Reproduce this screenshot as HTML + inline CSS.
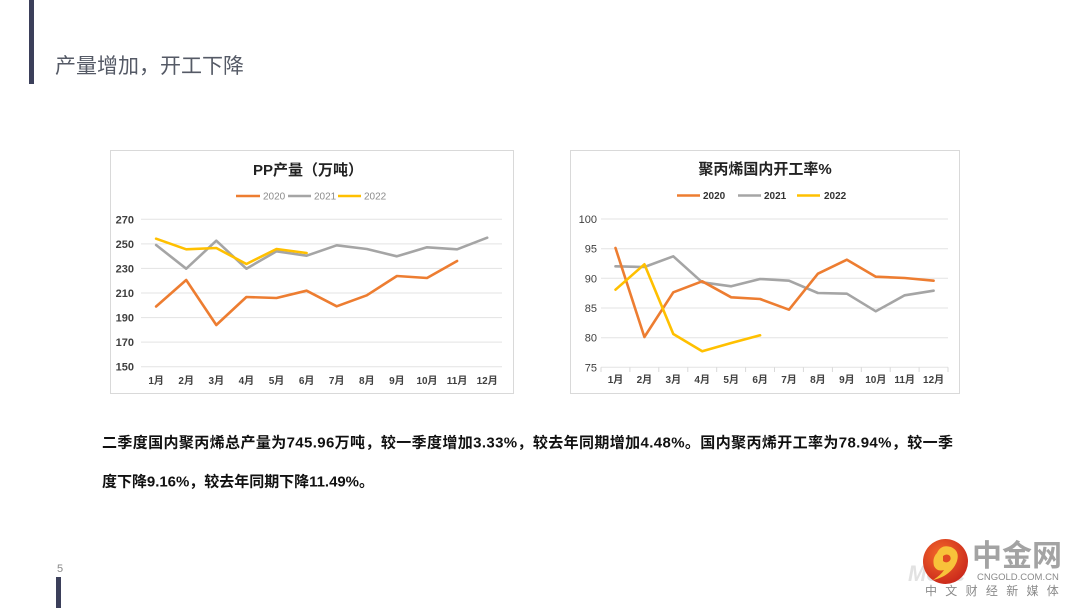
<!DOCTYPE html>
<html>
<head>
<meta charset="utf-8">
<style>
html,body{margin:0;padding:0;background:#fff;}
body{width:1080px;height:608px;position:relative;overflow:hidden;font-family:"Liberation Sans","Noto Sans CJK SC",sans-serif;}
svg{position:absolute;left:0;top:0;}
</style>
</head>
<body>
<svg width="1080" height="608" viewBox="0 0 1080 608" xmlns="http://www.w3.org/2000/svg">
  <!-- decorative bars -->
  <rect x="29" y="0" width="5" height="84" fill="#3b3f5a"/>
  <rect x="56" y="577" width="5" height="31" fill="#3b3f5a"/>
  <text x="55" y="73" font-family="Liberation Sans, Noto Sans CJK SC, sans-serif" font-size="21" fill="#555a66">产量增加，开工下降</text>
  <text x="57" y="572" font-family="Liberation Sans, sans-serif" font-size="11" fill="#888">5</text>

  <!-- ===== Chart 1 ===== -->
  <rect x="110.5" y="150.5" width="403" height="243" fill="#fff" stroke="#d9d9d9" stroke-width="1"/>
  <text x="308" y="175" text-anchor="middle" font-family="Liberation Sans, Noto Sans CJK SC, sans-serif" font-size="15" font-weight="bold" fill="#222">PP产量（万吨）</text>
  <g font-family="Liberation Sans, sans-serif" font-size="10" fill="#8c8c8c">
    <line x1="236" y1="196" x2="260" y2="196" stroke="#ED7D31" stroke-width="2.5"/>
    <text x="263" y="199.5">2020</text>
    <line x1="288" y1="196" x2="311" y2="196" stroke="#A5A5A5" stroke-width="2.5"/>
    <text x="314" y="199.5">2021</text>
    <line x1="338" y1="196" x2="361" y2="196" stroke="#FFC000" stroke-width="2.5"/>
    <text x="364" y="199.5">2022</text>
  </g>
  <g stroke="#e3e3e3" stroke-width="1">
    <line x1="141" y1="219.3" x2="502" y2="219.3"/>
    <line x1="141" y1="243.9" x2="502" y2="243.9"/>
    <line x1="141" y1="268.4" x2="502" y2="268.4"/>
    <line x1="141" y1="293.0" x2="502" y2="293.0"/>
    <line x1="141" y1="317.6" x2="502" y2="317.6"/>
    <line x1="141" y1="342.1" x2="502" y2="342.1"/>
    <line x1="141" y1="366.7" x2="502" y2="366.7"/>
  </g>
  <g font-family="Liberation Sans, sans-serif" font-size="11" font-weight="bold" fill="#404040" text-anchor="end">
    <text x="134" y="223.3">270</text>
    <text x="134" y="247.9">250</text>
    <text x="134" y="272.4">230</text>
    <text x="134" y="297.0">210</text>
    <text x="134" y="321.6">190</text>
    <text x="134" y="346.1">170</text>
    <text x="134" y="370.7">150</text>
  </g>
  <g font-family="Liberation Sans, Noto Sans CJK SC, sans-serif" font-size="10" font-weight="bold" fill="#404040" text-anchor="middle">
    <text x="156.1" y="384">1月</text>
    <text x="186.2" y="384">2月</text>
    <text x="216.3" y="384">3月</text>
    <text x="246.4" y="384">4月</text>
    <text x="276.5" y="384">5月</text>
    <text x="306.6" y="384">6月</text>
    <text x="336.7" y="384">7月</text>
    <text x="366.8" y="384">8月</text>
    <text x="396.9" y="384">9月</text>
    <text x="427.0" y="384">10月</text>
    <text x="457.1" y="384">11月</text>
    <text x="487.2" y="384">12月</text>
  </g>
  <g fill="none" stroke-width="2.6" stroke-linejoin="round" stroke-linecap="round">
    <polyline stroke="#ED7D31" points="156.1,306.5 186.2,280 216.3,325 246.4,297 276.5,298 306.6,290.7 336.7,306.3 366.8,295.3 396.9,276 427,278 457.1,261"/>
    <polyline stroke="#A5A5A5" points="156.1,245 186.2,268.7 216.3,240.7 246.4,268.7 276.5,251.3 306.6,255.7 336.7,245.3 366.8,249 396.9,256.3 427,247.3 457.1,249.3 487.2,237.7"/>
    <polyline stroke="#FFC000" points="156.1,238.7 186.2,249.3 216.3,248 246.4,264 276.5,249 306.6,253"/>
  </g>

  <!-- ===== Chart 2 ===== -->
  <rect x="570.5" y="150.5" width="389" height="243" fill="#fff" stroke="#d9d9d9" stroke-width="1"/>
  <text x="765" y="174" text-anchor="middle" font-family="Liberation Sans, Noto Sans CJK SC, sans-serif" font-size="15" font-weight="bold" fill="#222">聚丙烯国内开工率%</text>
  <g font-family="Liberation Sans, sans-serif" font-size="10" font-weight="bold" fill="#333">
    <line x1="677" y1="195.5" x2="700" y2="195.5" stroke="#ED7D31" stroke-width="2.5"/>
    <text x="703" y="199">2020</text>
    <line x1="738" y1="195.5" x2="761" y2="195.5" stroke="#A5A5A5" stroke-width="2.5"/>
    <text x="764" y="199">2021</text>
    <line x1="797" y1="195.5" x2="820" y2="195.5" stroke="#FFC000" stroke-width="2.5"/>
    <text x="824" y="199">2022</text>
  </g>
  <g stroke="#e3e3e3" stroke-width="1">
    <line x1="601" y1="219" x2="948" y2="219"/>
    <line x1="601" y1="248.7" x2="948" y2="248.7"/>
    <line x1="601" y1="278.3" x2="948" y2="278.3"/>
    <line x1="601" y1="308" x2="948" y2="308"/>
    <line x1="601" y1="337.7" x2="948" y2="337.7"/>
    <line x1="601" y1="367.3" x2="948" y2="367.3"/>
  </g>
  <g stroke="#d9d9d9" stroke-width="1">
    <line x1="601" y1="367.3" x2="601" y2="372"/>
    <line x1="629.9" y1="367.3" x2="629.9" y2="372"/>
    <line x1="658.8" y1="367.3" x2="658.8" y2="372"/>
    <line x1="687.8" y1="367.3" x2="687.8" y2="372"/>
    <line x1="716.7" y1="367.3" x2="716.7" y2="372"/>
    <line x1="745.6" y1="367.3" x2="745.6" y2="372"/>
    <line x1="774.5" y1="367.3" x2="774.5" y2="372"/>
    <line x1="803.4" y1="367.3" x2="803.4" y2="372"/>
    <line x1="832.4" y1="367.3" x2="832.4" y2="372"/>
    <line x1="861.3" y1="367.3" x2="861.3" y2="372"/>
    <line x1="890.2" y1="367.3" x2="890.2" y2="372"/>
    <line x1="919.1" y1="367.3" x2="919.1" y2="372"/>
    <line x1="948" y1="367.3" x2="948" y2="372"/>
  </g>
  <g font-family="Liberation Sans, sans-serif" font-size="11" fill="#404040" text-anchor="end">
    <text x="597" y="223">100</text>
    <text x="597" y="252.7">95</text>
    <text x="597" y="282.3">90</text>
    <text x="597" y="312">85</text>
    <text x="597" y="341.7">80</text>
    <text x="597" y="371.3">75</text>
  </g>
  <g font-family="Liberation Sans, Noto Sans CJK SC, sans-serif" font-size="10" font-weight="bold" fill="#404040" text-anchor="middle">
    <text x="615.5" y="383">1月</text>
    <text x="644.4" y="383">2月</text>
    <text x="673.3" y="383">3月</text>
    <text x="702.2" y="383">4月</text>
    <text x="731.2" y="383">5月</text>
    <text x="760.1" y="383">6月</text>
    <text x="789.0" y="383">7月</text>
    <text x="817.9" y="383">8月</text>
    <text x="846.9" y="383">9月</text>
    <text x="875.8" y="383">10月</text>
    <text x="904.7" y="383">11月</text>
    <text x="933.6" y="383">12月</text>
  </g>
  <g fill="none" stroke-width="2.6" stroke-linejoin="round" stroke-linecap="round">
    <polyline stroke="#A5A5A5" points="615.5,266.3 644.4,267 673.3,256.3 702.2,282.3 731.2,286.3 760.1,279 789,280.7 817.9,293 846.9,293.7 875.8,311.3 904.7,295.3 933.6,290.7"/>
    <polyline stroke="#ED7D31" points="615.5,248 644.4,337 673.3,292.3 702.2,281.3 731.2,297.3 760.1,299 789,309.7 817.9,273.7 846.9,259.7 875.8,276.7 904.7,278 933.6,280.7"/>
    <polyline stroke="#FFC000" points="615.5,289.7 644.4,264.3 673.3,334 702.2,351.3 731.2,343 760.1,335.3"/>
  </g>

  <!-- ===== Paragraph ===== -->
  <g font-family="Liberation Sans, Noto Sans CJK SC, sans-serif" font-size="15" font-weight="bold" fill="#111">
    <text x="102" y="447.5" textLength="851" lengthAdjust="spacing">二季度国内聚丙烯总产量为745.96万吨，较一季度增加3.33%，较去年同期增加4.48%。国内聚丙烯开工率为78.94%，较一季</text>
    <text x="102" y="486.5" textLength="272" lengthAdjust="spacing">度下降9.16%，较去年同期下降11.49%。</text>
  </g>

  <!-- ===== Logo ===== -->
  <defs>
    <radialGradient id="lg" cx="40%" cy="35%" r="70%">
      <stop offset="0" stop-color="#f46a2a"/>
      <stop offset="1" stop-color="#c9261b"/>
    </radialGradient>
  </defs>
  <text x="908" y="581" font-family="Liberation Sans, sans-serif" font-size="22" font-weight="bold" font-style="italic" fill="#e2e2e2">Mone</text>
  <circle cx="945.5" cy="561.5" r="22.5" fill="url(#lg)"/>
  <path d="M937 553 q4 -9 14 -6 q9 4 6 14 q-3 9 -13 15 q-6 3 -11 4 q8 -5 11 -10 q-7 2 -10 -4 q-2 -8 3 -13z" fill="#f8c23a"/>
  <path d="M943 556 q4 -3 7 0 q2 4 -2 6 q-3 1 -5 -1z" fill="#e14a22"/>
  <text x="972" y="566" font-family="Liberation Sans, Noto Sans CJK SC, sans-serif" font-size="30" font-weight="bold" fill="#a3a3a3">中金网</text>
  <text x="977" y="580" font-family="Liberation Sans, sans-serif" font-size="9.5" fill="#8a8a8a">CNGOLD.COM.CN</text>
  <text x="925" y="595" font-family="Liberation Sans, Noto Sans CJK SC, sans-serif" font-size="12" fill="#8a8a8a" letter-spacing="8.3">中文财经新媒体</text>
</svg>
</body>
</html>
